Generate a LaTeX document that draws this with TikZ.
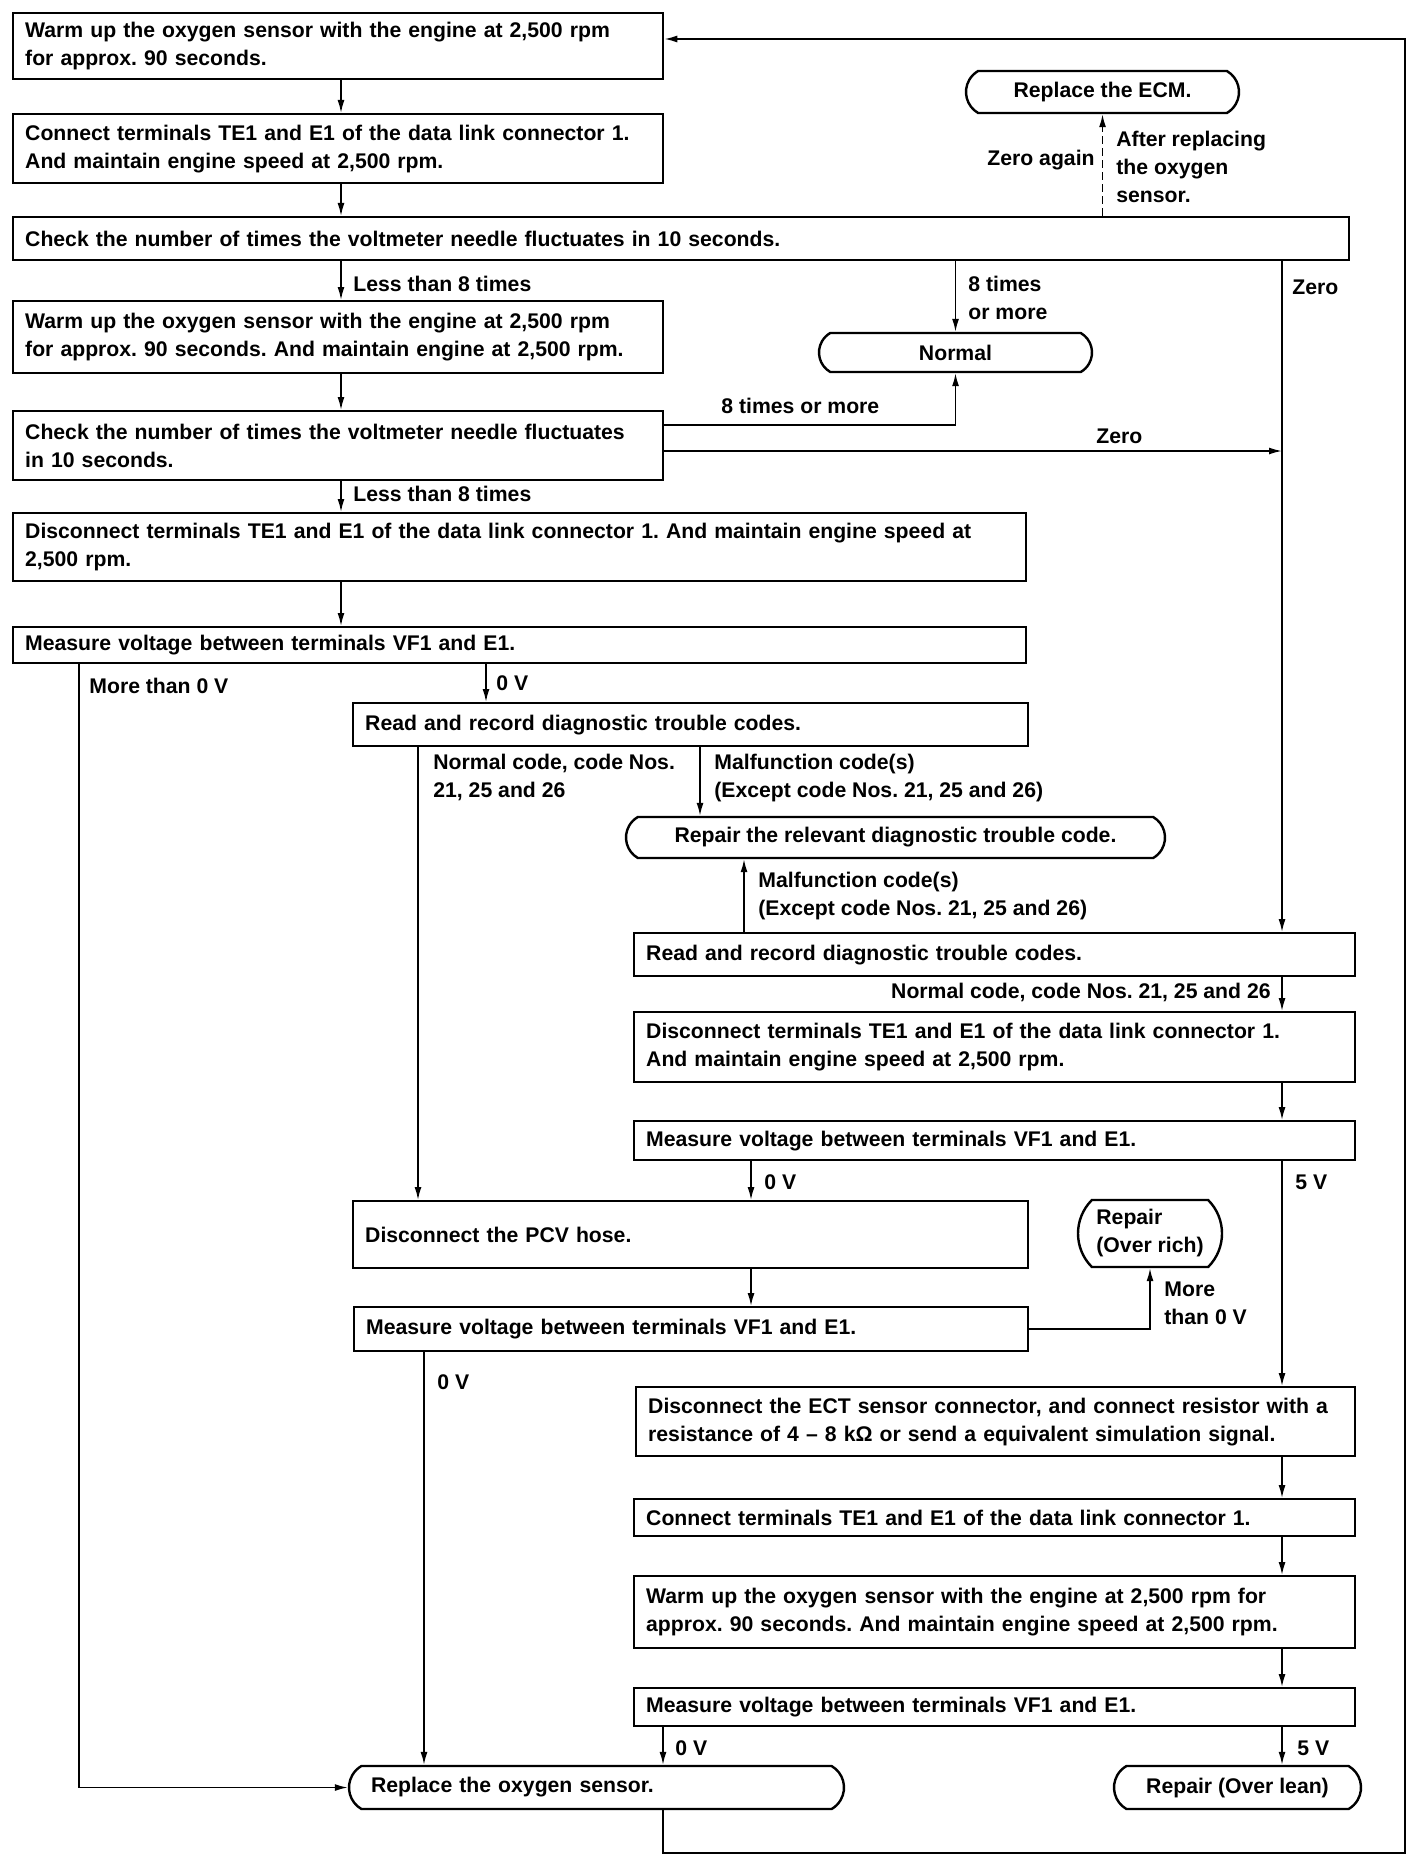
\documentclass[tikz,border=0pt]{standalone}
\usepackage{fontspec}
\newfontfamily\diagfont{Liberation Sans}
\usetikzlibrary{arrows.meta,shapes.misc,calc}
\frenchspacing
\begin{document}
\begin{tikzpicture}[x=0.5pt,y=-0.5pt,
  every node/.style={font=\diagfont\bfseries\frenchspacing\fontsize{10.6}{14}\selectfont},
  stepbox/.style={draw, line width=1.2pt, rectangle, anchor=north west, align=left, inner xsep=6pt, inner ysep=2pt},
  termbox/.style={draw, line width=1.2pt, rounded rectangle, rounded rectangle arc length=120, inner xsep=4pt, inner ysep=2pt},
  lbl/.style={inner sep=0pt, align=left},
  conn/.style={line width=0.8pt},
  arr/.style={conn, -{Latex[length=6.5pt,width=3.5pt]}},
]
\fill[white] (0,0) rectangle (1424,1862);
\useasboundingbox (0,0) rectangle (1424,1862);

% ---------- process boxes ----------
\node[stepbox, text width=313pt, minimum height=33pt] (b1) at (12,12)
  {Warm up the oxygen sensor with the engine at 2,500 rpm\\for approx. 90 seconds.};
\node[stepbox, text width=313pt, minimum height=34.5pt] (b2) at (12,113)
  {Connect terminals TE1 and E1 of the data link connector 1.\\And maintain engine speed at 2,500 rpm.};
\node[stepbox, text width=656pt, minimum height=21.5pt] (b3) at (12,216)
  {Check the number of times the voltmeter needle fluctuates in 10 seconds.};
\node[stepbox, text width=313pt, minimum height=36pt] (b4) at (12,300)
  {Warm up the oxygen sensor with the engine at 2,500 rpm\\for approx. 90 seconds. And maintain engine at 2,500 rpm.};
\node[stepbox, text width=313pt, minimum height=34.5pt] (b5) at (12,410)
  {Check the number of times the voltmeter needle fluctuates\\in 10 seconds.};
\node[stepbox, text width=494.5pt, minimum height=34pt] (b6) at (12,512)
  {Disconnect terminals TE1 and E1 of the data link connector 1. And maintain engine speed at\\2,500 rpm.};
\node[stepbox, text width=494.5pt, minimum height=18pt] (b7) at (12,626)
  {Measure voltage between terminals VF1 and E1.};
\node[stepbox, text width=325.5pt, minimum height=21.5pt] (b8) at (352,702)
  {Read and record diagnostic trouble codes.};
\node[stepbox, text width=348.5pt, minimum height=21.5pt] (b9) at (633,932)
  {Read and record diagnostic trouble codes.};
\node[stepbox, text width=348.5pt, minimum height=35pt] (b10) at (633,1011)
  {Disconnect terminals TE1 and E1 of the data link connector 1.\\And maintain engine speed at 2,500 rpm.};
\node[stepbox, text width=348.5pt, minimum height=19.5pt] (b11) at (633,1120)
  {Measure voltage between terminals VF1 and E1.};
\node[stepbox, text width=325.5pt, minimum height=33.5pt] (b12) at (352,1200)
  {Disconnect the PCV hose.};
\node[stepbox, text width=325pt, minimum height=22pt] (b13) at (353,1306)
  {Measure voltage between terminals VF1 and E1.};
\node[stepbox, text width=347.5pt, minimum height=34.5pt] (b14) at (635,1386)
  {Disconnect the ECT sensor connector, and connect resistor with a\\resistance of 4 – 8 kΩ or send a equivalent simulation signal.};
\node[stepbox, text width=348.5pt, minimum height=18.5pt] (b15) at (633,1498)
  {Connect terminals TE1 and E1 of the data link connector 1.};
\node[stepbox, text width=348.5pt, minimum height=36pt] (b16) at (633,1575)
  {Warm up the oxygen sensor with the engine at 2,500 rpm for\\approx. 90 seconds. And maintain engine speed at 2,500 rpm.};
\node[stepbox, text width=348.5pt, minimum height=19pt] (b17) at (633,1687)
  {Measure voltage between terminals VF1 and E1.};

% ---------- terminal shapes ----------
\node[termbox, minimum width=144.5pt, minimum height=21pt] (ecm) at (1102.5,92) {Replace the ECM.};
\node[termbox, minimum width=144.5pt, minimum height=19.5pt] (normal) at (955.5,352.5) {Normal};
\node[termbox, minimum width=277.5pt, minimum height=20.5pt] (dtc) at (895.5,837.5) {Repair the relevant diagnostic trouble code.};
\node[termbox, rounded rectangle arc length=90, minimum width=80pt, minimum height=33.5pt, align=left] (rich) at (1150,1233.5) {Repair\\(Over rich)};
\node[termbox, minimum width=255.5pt, minimum height=21.5pt, text width=225.5pt, align=left] (rep) at (596.5,1787.5) {Replace the oxygen sensor.};
\node[termbox, minimum width=131.5pt, minimum height=21.5pt] (lean) at (1237.5,1787.5) {Repair (Over lean)};

% ---------- helper coordinates ----------
\coordinate (cMain) at (341,0);
\coordinate (cZ) at (1282,0);
\coordinate (cL) at (79,0);
\coordinate (cB) at (486,0);
\coordinate (cP) at (418,0);
\coordinate (cM) at (700,0);
\coordinate (cU) at (744,0);
\coordinate (cV) at (751,0);
\coordinate (cR) at (424,0);
\coordinate (cO) at (663,0);
\coordinate (cLoop) at (1405,0);
\coordinate (rTop) at (0,39);
\coordinate (rBot) at (0,1853);
\coordinate (r5a) at (0,425);
\coordinate (r5b) at (0,451);

% ---------- connectors ----------
\draw[arr] (b1.south -| cMain) -- (b2.north -| cMain);
\draw[arr] (b2.south -| cMain) -- (b3.north -| cMain);
\draw[arr] (b3.south -| cMain) -- (b4.north -| cMain);
\draw[arr] (b4.south -| cMain) -- (b5.north -| cMain);
\draw[arr] (b5.south -| cMain) -- (b6.north -| cMain);
\draw[arr] (b6.south -| cMain) -- (b7.north -| cMain);
\draw[arr] (b3.south -| normal.north) -- (normal.north);
\draw[arr] (b3.south -| cZ) -- (b9.north -| cZ);
\draw[arr] (b5.east |- r5a) -- (normal.south |- r5a) -- (normal.south);
\draw[arr] (b5.east |- r5b) -- (cZ |- r5b);
\draw[arr] (b7.south -| cL) -- (cL |- rep.west) -- (rep.west);
\draw[arr] (b7.south -| cB) -- (b8.north -| cB);
\draw[arr] (b8.south -| cP) -- (b12.north -| cP);
\draw[arr] (b8.south -| cM) -- (dtc.north -| cM);
\draw[arr] (b9.north -| cU) -- (dtc.south -| cU);
\draw[arr] (b9.south -| cZ) -- (b10.north -| cZ);
\draw[arr] (b10.south -| cZ) -- (b11.north -| cZ);
\draw[arr] (b11.south -| cV) -- (b12.north -| cV);
\draw[arr] (b11.south -| cZ) -- (b14.north -| cZ);
\draw[arr] (b12.south -| cV) -- (b13.north -| cV);
\draw[arr] (b13.east) -- (rich.south |- b13.east) -- (rich.south);
\draw[arr] (b13.south -| cR) -- (rep.north -| cR);
\draw[arr] (b14.south -| cZ) -- (b15.north -| cZ);
\draw[arr] (b15.south -| cZ) -- (b16.north -| cZ);
\draw[arr] (b16.south -| cZ) -- (b17.north -| cZ);
\draw[arr] (b17.south -| cO) -- (rep.north -| cO);
\draw[arr] (b17.south -| cZ) -- (lean.north -| cZ);
\draw[arr] (rep.south -| cO) -- (cO |- rBot) -- (cLoop |- rBot) -- (cLoop |- rTop) -- (b1.east |- rTop);
\draw[arr, dash pattern=on 4pt off 2pt] (b3.north -| ecm.south) -- (ecm.south);

% ---------- labels ----------
\node[lbl, anchor=west] (l1) at (353,284) {Less than 8 times};
\node[lbl, anchor=north west] (l2) at (968,276) {8 times\\or more};
\node[lbl, anchor=west] (l3) at (1292,287) {Zero};
\node[lbl, anchor=west] (l4) at (721,406) {8 times or more};
\node[lbl, anchor=west] (l5) at (1096,436) {Zero};
\node[lbl, anchor=west] (l6) at (353,494) {Less than 8 times};
\node[lbl, anchor=west] (l7) at (89,686) {More than 0 V};
\node[lbl, anchor=west] (l8) at (496,683) {0 V};
\node[lbl, anchor=north west] (l9) at (433,754) {Normal code, code Nos.\\21, 25 and 26};
\node[lbl, anchor=north west] (l10) at (714,754) {Malfunction code(s)\\(Except code Nos. 21, 25 and 26)};
\node[lbl, anchor=north west] (l11) at (758,872) {Malfunction code(s)\\(Except code Nos. 21, 25 and 26)};
\node[lbl, anchor=east] (l12) at (1271,992) {Normal code, code Nos. 21, 25 and 26};
\node[lbl, anchor=west] (l13) at (764,1182) {0 V};
\node[lbl, anchor=west] (l14) at (1295,1182) {5 V};
\node[lbl, anchor=north west] (l15) at (1164,1281) {More\\than 0 V};
\node[lbl, anchor=west] (l16) at (437,1382) {0 V};
\node[lbl, anchor=west] (l17) at (675,1748) {0 V};
\node[lbl, anchor=west] (l18) at (1297,1748) {5 V};
\node[lbl, anchor=east] (l19) at (1095,160) {Zero again};
\node[lbl, anchor=north west] (l20) at (1116,131) {After replacing\\the oxygen\\sensor.};
\end{tikzpicture}
\end{document}
